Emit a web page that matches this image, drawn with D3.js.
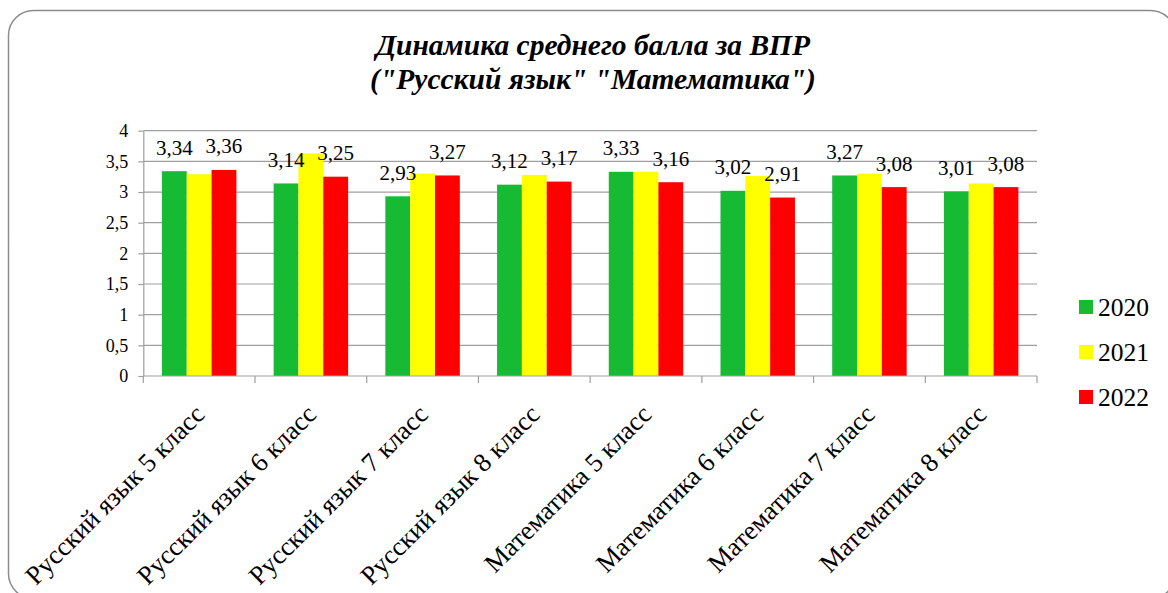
<!DOCTYPE html>
<html>
<head>
<meta charset="utf-8">
<script src="https://cdn.jsdelivr.net/npm/d3@7"></script>
<style>
  html, body { margin: 0; padding: 0; background: #fff; }
</style>
</head>
<body>
<div id="chart"></div>
<script>
const categories = [
  'Русский язык 5 класс', 'Русский язык 6 класс', 'Русский язык 7 класс', 'Русский язык 8 класс',
  'Математика 5 класс', 'Математика 6 класс', 'Математика 7 класс', 'Математика 8 класс'
];
const years = ['2020', '2021', '2022'];
const values2020 = [3.34, 3.14, 2.93, 3.12, 3.33, 3.02, 3.27, 3.01];
const values2021 = [3.29, 3.63, 3.30, 3.28, 3.33, 3.26, 3.30, 3.14];
const values2022 = [3.36, 3.25, 3.27, 3.17, 3.16, 2.91, 3.08, 3.08];
const labelledYears = ['2020', '2022'];
const yTicks = [0, 0.5, 1, 1.5, 2, 2.5, 3, 3.5, 4];
const colors = { '2020': '#17bb33', '2021': '#ffff00', '2022': '#ff0000' };
const titleLines = ['Динамика среднего балла за ВПР', '("Русский язык" "Математика")'];

const width = 1168, height = 593;
const margin = { top: 130.7, right: 131, bottom: 217, left: 143.3 };
const serif = 'Liberation Serif';

const series = { '2020': values2020, '2021': values2021, '2022': values2022 };
const fmt = d => String(d).replace('.', ',');

const svg = d3.select('#chart').append('svg')
  .attr('width', width)
  .attr('height', height)
  .attr('font-family', serif);

// outer rounded frame
svg.append('rect')
  .attr('x', 8.5).attr('y', 10.5)
  .attr('width', 1167).attr('height', 588)
  .attr('rx', 25).attr('ry', 25)
  .attr('fill', 'none')
  .attr('stroke', '#8c8c8c')
  .attr('stroke-width', 1.5);

// title
svg.append('text')
  .attr('font-family', serif)
  .attr('text-anchor', 'middle')
  .attr('font-size', 29.5)
  .attr('font-weight', 'bold')
  .attr('font-style', 'italic')
  .selectAll('tspan')
  .data(titleLines)
  .join('tspan')
  .attr('x', 593)
  .attr('y', (d, i) => 55 + i * 34)
  .text(d => d);

const x0 = d3.scaleBand()
  .domain(categories)
  .range([margin.left, width - margin.right])
  .padding(0);

const x1 = d3.scaleBand()
  .domain(years)
  .range([0, x0.bandwidth()])
  .paddingInner(0)
  .paddingOuter(0.75);

const y = d3.scaleLinear()
  .domain([0, 4])
  .range([height - margin.bottom, margin.top]);

// gridlines
svg.append('g')
  .selectAll('line')
  .data(yTicks.slice(1))
  .join('line')
  .attr('x1', margin.left).attr('x2', width - margin.right)
  .attr('y1', d => y(d)).attr('y2', d => y(d))
  .attr('stroke', '#9f9f9f')
  .attr('stroke-width', 1.2);

// y axis
const yAxis = svg.append('g')
  .attr('transform', `translate(${margin.left},0)`)
  .call(d3.axisLeft(y).tickValues(yTicks).tickFormat(fmt).tickSize(5).tickPadding(10).tickSizeOuter(0))
  .attr('font-family', serif)
  .attr('font-size', 18);
yAxis.selectAll('line, path').attr('stroke', '#9f9f9f').attr('stroke-width', 1.2);
yAxis.selectAll('text').attr('fill', '#000');

// bars
const groups = svg.append('g')
  .selectAll('g')
  .data(categories)
  .join('g')
  .attr('transform', d => `translate(${x0(d)},0)`);

groups.selectAll('rect')
  .data((c, i) => years.map(yr => ({ yr, v: series[yr][i] })))
  .join('rect')
  .attr('x', d => x1(d.yr))
  .attr('width', x1.bandwidth())
  .attr('y', d => y(d.v))
  .attr('height', d => y(0) - y(d.v))
  .attr('fill', d => colors[d.yr]);

// data labels (2020, 2022)
groups.selectAll('text.val')
  .data((c, i) => labelledYears.map(yr => ({ yr, v: series[yr][i] })))
  .join('text')
  .attr('class', 'val')
  .attr('font-family', serif)
  .attr('x', d => x1(d.yr) + x1.bandwidth() / 2)
  .attr('y', d => y(d.v) - 16.5)
  .attr('text-anchor', 'middle')
  .attr('font-size', 21)
  .text(d => fmt(d.v));

// x axis line + boundary ticks
const x0Axis = svg.append('g');
x0Axis.append('line')
  .attr('x1', margin.left).attr('x2', width - margin.right)
  .attr('y1', y(0)).attr('y2', y(0))
  .attr('stroke', '#9f9f9f').attr('stroke-width', 1.2);
const bounds = categories.map(c => x0(c)).concat([x0.range()[1]]);
x0Axis.selectAll('line.tick')
  .data(bounds)
  .join('line')
  .attr('class', 'tick')
  .attr('x1', d => d).attr('x2', d => d)
  .attr('y1', y(0)).attr('y2', y(0) + 7)
  .attr('stroke', '#9f9f9f').attr('stroke-width', 1.2);

// rotated category labels
svg.append('g')
  .selectAll('text')
  .data(categories)
  .join('text')
  .attr('font-family', serif)
  .attr('text-anchor', 'end')
  .attr('font-size', 26.5)
  .attr('transform', d => `translate(${x0(d) + x0.bandwidth() / 2 + 7},${y(0) + 40}) rotate(-45)`)
  .text(d => d);

// legend
const legend = svg.append('g')
  .selectAll('g')
  .data(years)
  .join('g')
  .attr('transform', (d, i) => `translate(1079,${307 + i * 45})`);
legend.append('rect')
  .attr('x', 0).attr('y', -7)
  .attr('width', 14).attr('height', 14)
  .attr('fill', d => colors[d]);
legend.append('text')
  .attr('font-family', serif)
  .attr('x', 19).attr('y', 9)
  .attr('font-size', 25.5)
  .text(d => d);
</script>
</body>
</html>
